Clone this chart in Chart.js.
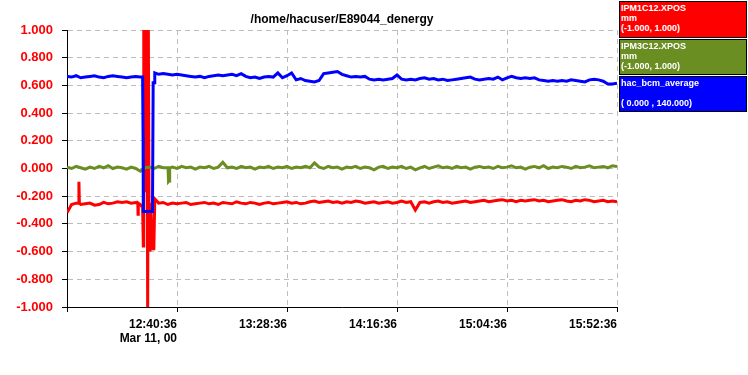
<!DOCTYPE html>
<html>
<head>
<meta charset="utf-8">
<title>/home/hacuser/E89044_denergy</title>
<script src="https://cdn.jsdelivr.net/npm/chart.js@4.4.1/dist/chart.umd.min.js"></script>
<style>
    body { margin: 0; background: #fff; }
    #wrap { position: relative; width: 748px; height: 375px; }
    .key {
        position: absolute;
        left: 619px;
        width: 128px;
        border: 1px solid #000;
        box-sizing: border-box;
        color: #fff;
        font: bold 9px 'Liberation Sans', Arial, sans-serif;
        line-height: 10px;
        padding: 1px 0 0 1px;
        white-space: pre;
    }
</style>
</head>
<body>
<div id="wrap">
    <canvas id="chart" width="748" height="375"></canvas>
    <div id="keys"></div>
</div>
<script>
/* -------- Data -------- */
const chartTitle = '/home/hacuser/E89044_denergy';

// x axis is minutes after 11:52:36, one sample every 2 minutes
const STEP_MIN = 2;
const tickMinutes = [0, 48, 96, 144, 192, 240];
const tickLabels = ['', '12:40:36', '13:28:36', '14:16:36', '15:04:36', '15:52:36'];
const dateLabel = 'Mar 11, 00';

// legend entries
const seriesNames = ['IPM1C12.XPOS', 'IPM3C12.XPOS', 'hac_bcm_average'];
const seriesUnits = ['mm', 'mm', ''];
const seriesRanges = ['(-1.000, 1.000)', '(-1.000, 1.000)', '( 0.000 , 140.000)'];
const seriesColors = ['#ff0000', '#6b8e23', '#0000ff'];

// null = covered by the extra points around the 12:27 beam trip
const ipm1Values = [
    -0.32, -0.26, -0.25, -0.26, -0.255, -0.25, -0.265, -0.26, -0.245, -0.255,
    -0.25, -0.24, -0.245, -0.24, -0.25, -0.245, null, null, null, null,
    -0.25, -0.245, -0.26, -0.25, -0.255, -0.25, -0.245, -0.26, -0.255, -0.25,
    -0.245, -0.255, -0.25, -0.26, -0.245, -0.25, -0.255, -0.24, -0.25, -0.255,
    -0.245, -0.25, -0.26, -0.25, -0.245, -0.255, -0.25, -0.245, -0.24, -0.25,
    -0.245, -0.255, -0.25, -0.24, -0.235, -0.245, -0.24, -0.235, -0.245, -0.24,
    -0.25, -0.24, -0.245, -0.235, -0.24, -0.25, -0.245, -0.24, -0.25, -0.245,
    -0.24, -0.25, -0.245, -0.235, -0.245, -0.24, -0.30, -0.245, -0.24, -0.25,
    -0.24, -0.235, -0.245, -0.24, -0.25, -0.245, -0.24, -0.235, -0.245, -0.24,
    -0.235, -0.23, -0.24, -0.235, -0.23, -0.225, -0.235, -0.23, -0.24, -0.23,
    -0.235, -0.23, -0.225, -0.235, -0.23, -0.24, -0.235, -0.23, -0.225, -0.235,
    -0.24, -0.23, -0.235, -0.225, -0.23, -0.24, -0.235, -0.23, -0.24, -0.235,
    -0.24,
];
const ipm1Extra = [
    [5.0, -0.25], [5.2, -0.095], [5.4, -0.25],
    [30.9, -0.25], [31.0, -0.33], [31.1, -0.25], [32.0, -0.26], [33.0, -0.28], [33.3, -0.56],
    [33.5, 1.0], [33.9, -0.15], [34.2, 1.0], [34.6, -0.16], [34.9, 1.0],
    [35.2, -1.0], [35.5, 1.0], [35.8, -0.3], [36.2, -0.6], [36.6, -0.25],
    [37.2, -0.58], [37.9, -0.58], [38.3, -0.22],
];

const ipm3Values = [
    0.01, 0.0, 0.015, 0.005, -0.005, 0.01, 0.0, 0.015, 0.005, 0.02,
    0.0, 0.01, 0.005, -0.005, 0.01, 0.0, -0.02, 0.005, 0.01, 0.0,
    0.015, 0.005, 0.005, 0.01, 0.0, 0.015, 0.005, 0.01, -0.005, 0.01,
    0.005, 0.015, 0.0, 0.01, 0.045, 0.005, 0.01, 0.0, 0.015, 0.005,
    0.01, -0.005, 0.01, 0.005, 0.015, 0.0, 0.01, 0.005, 0.015, 0.0,
    0.01, 0.005, 0.015, 0.005, 0.04, 0.01, 0.0, 0.015, 0.005, 0.01,
    -0.005, 0.01, 0.005, 0.015, 0.0, 0.01, 0.005, -0.01, 0.01, 0.015,
    0.0, 0.01, 0.005, 0.015, 0.0, 0.01, -0.01, 0.005, 0.015, 0.0,
    0.01, 0.02, 0.005, 0.01, 0.0, 0.015, 0.005, 0.01, -0.005, 0.01,
    0.015, 0.005, 0.01, 0.0, 0.015, 0.005, 0.01, 0.02, 0.005, 0.01,
    -0.005, 0.01, 0.015, 0.005, 0.02, 0.0, 0.01, 0.005, 0.015, 0.01,
    0.0, 0.015, 0.005, 0.01, 0.02, 0.005, 0.01, 0.015, 0.005, 0.02,
    0.015,
];
const ipm3Extra = [[44.1, 0.0], [44.3, -0.095], [44.6, -0.09], [44.8, 0.005]];

const bcmValues = [
    0.665, 0.66, 0.67, 0.655, 0.66, 0.665, 0.67, 0.66, 0.655, 0.665,
    0.67, 0.665, 0.66, 0.655, 0.66, 0.665, 0.66, null, null, null,
    0.68, 0.685, 0.68, 0.675, 0.68, 0.675, 0.67, 0.665, 0.66, 0.665,
    0.655, 0.665, 0.67, 0.675, 0.67, 0.675, 0.68, 0.67, 0.685, 0.665,
    0.655, 0.66, 0.65, 0.66, 0.665, 0.66, 0.69, 0.655, 0.67, 0.69,
    0.64, 0.65, 0.635, 0.63, 0.625, 0.635, 0.685, 0.69, 0.695, 0.70,
    0.68, 0.67, 0.66, 0.665, 0.66, 0.665, 0.645, 0.64, 0.645, 0.64,
    0.645, 0.65, 0.675, 0.645, 0.64, 0.645, 0.64, 0.65, 0.655, 0.645,
    0.65, 0.64, 0.645, 0.635, 0.64, 0.645, 0.65, 0.655, 0.66, 0.645,
    0.64, 0.645, 0.65, 0.645, 0.66, 0.64, 0.655, 0.665, 0.655, 0.65,
    0.655, 0.65, 0.655, 0.64, 0.635, 0.63, 0.635, 0.63, 0.635, 0.63,
    0.64, 0.635, 0.63, 0.625, 0.64, 0.645, 0.64, 0.63, 0.61, 0.61,
    0.615,
];
const bcmExtra = [
    [33.0, 0.66], [33.2, 0.23], [33.3, -0.31], [37.3, -0.31],
    [37.6, 0.62], [38.0, 0.62], [38.3, 0.69],
];

/* -------- Chart -------- */
function buildSeries(values, extra) {
    const pts = [];
    values.forEach((v, i) => {
        if (v !== null) pts.push({ x: i * STEP_MIN, y: v });
    });
    extra.forEach(([x, y]) => pts.push({ x, y }));
    pts.sort((a, b) => a.x - b.x);
    return pts;
}

function renderKeys() {
    const box = document.getElementById('keys');
    const tops = [1, 39, 76];
    const heights = [37, 36, 36];
    seriesNames.forEach((name, i) => {
        const el = document.createElement('div');
        el.className = 'key';
        el.style.top = tops[i] + 'px';
        el.style.height = heights[i] + 'px';
        el.style.background = seriesColors[i];
        el.textContent = name + '\n' + seriesUnits[i] + '\n' + seriesRanges[i];
        box.appendChild(el);
    });
}

const titlePlugin = {
    id: 'plotTitle',
    afterDraw(chart) {
        const { ctx, chartArea } = chart;
        ctx.save();
        ctx.font = 'bold 12px "Liberation Sans", Arial, sans-serif';
        ctx.fillStyle = '#000';
        ctx.textAlign = 'center';
        ctx.textBaseline = 'middle';
        ctx.fillText(chartTitle, (chartArea.left + chartArea.right) / 2, 20);
        ctx.restore();
    },
};

const gridOpts = { color: '#bdbdbd', tickColor: '#000', tickLength: 5, lineWidth: 1 };
const borderOpts = { color: '#000', width: 1, dash: [5, 4] };

function initChart() {
    const ctx = document.getElementById('chart').getContext('2d');
    const mk = (i, values, extra) => ({
        label: seriesNames[i],
        data: buildSeries(values, extra),
        borderColor: seriesColors[i],
        backgroundColor: seriesColors[i],
        borderWidth: 3,
        pointRadius: 0,
        tension: 0,
        fill: false,
    });
    new Chart(ctx, {
        type: 'line',
        data: {
            // first dataset is painted on top
            datasets: [
                mk(2, bcmValues, bcmExtra),
                mk(1, ipm3Values, ipm3Extra),
                mk(0, ipm1Values, ipm1Extra),
            ],
        },
        options: {
            responsive: false,
            animation: false,
            layout: { padding: { top: 30, right: 131, left: 0, bottom: 0 } },
            plugins: { legend: { display: false }, tooltip: { enabled: false } },
            scales: {
                x: {
                    type: 'linear',
                    min: 0,
                    max: 240,
                    afterFit(s) { s.height = 68; },
                    afterBuildTicks(s) { s.ticks = tickMinutes.map((v) => ({ value: v })); },
                    ticks: {
                        autoSkip: false,
                        maxRotation: 0,
                        align: 'end',
                        color: '#000',
                        padding: 5,
                        font: { family: '"Liberation Sans", Arial, sans-serif', size: 12, weight: 'bold' },
                        callback: (v, i) => (i === 1 ? [tickLabels[i], dateLabel] : tickLabels[i]),
                    },
                    grid: gridOpts,
                    border: borderOpts,
                },
                y: {
                    min: -1,
                    max: 1,
                    afterFit(s) { s.width = 67; },
                    ticks: {
                        stepSize: 0.2,
                        color: '#ff0000',
                        padding: 9,
                        font: { family: '"Liberation Sans", Arial, sans-serif', size: 13, weight: 'bold' },
                        callback: (v) => (Math.abs(v) < 1e-9 ? 0 : v).toFixed(3),
                    },
                    grid: gridOpts,
                    border: borderOpts,
                },
            },
        },
        plugins: [titlePlugin],
    });
}

(function init() {
    renderKeys();
    initChart();
})();
</script>
</body>
</html>
